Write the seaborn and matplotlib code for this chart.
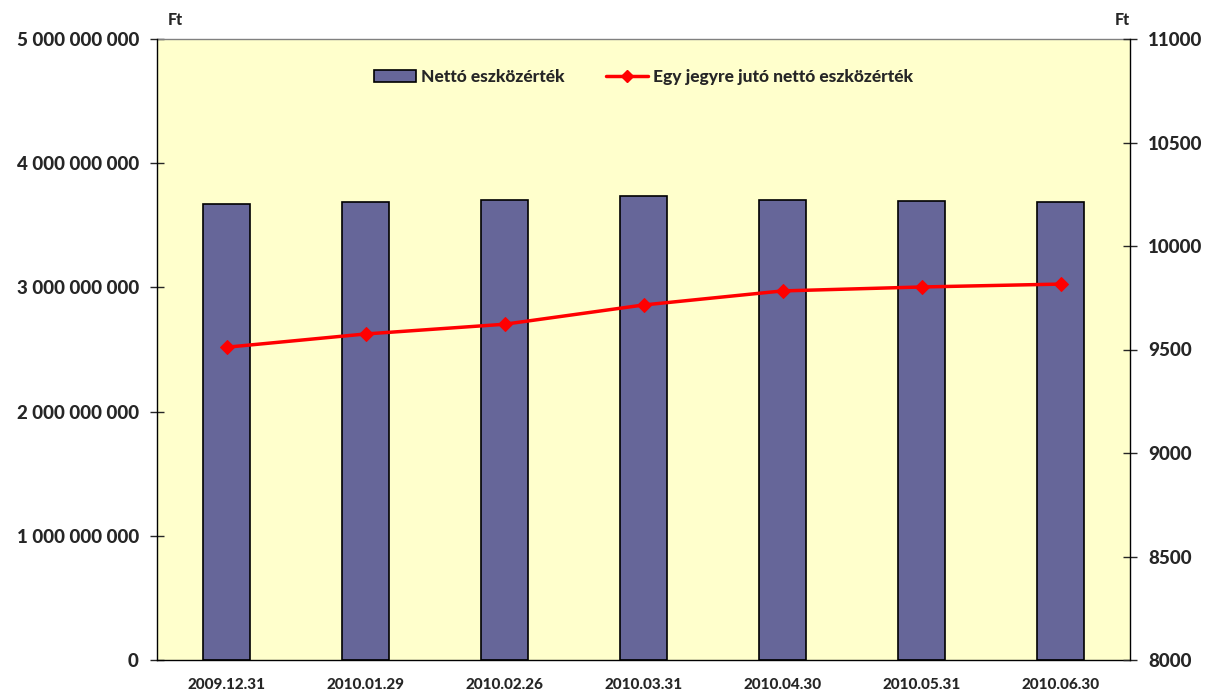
import numpy as np
import pandas as pd
import matplotlib
matplotlib.use("Agg")
import matplotlib.pyplot as plt
import seaborn as sns
from matplotlib.patches import Patch
from matplotlib.lines import Line2D
from matplotlib.ticker import FuncFormatter, MultipleLocator, FixedLocator

# adatok
dates = ["2009.12.31", "2010.01.29", "2010.02.26", "2010.03.31",
         "2010.04.30", "2010.05.31", "2010.06.30"]
net_assets = [3.671e9, 3.688e9, 3.704e9, 3.733e9, 3.704e9, 3.698e9, 3.690e9]
per_share = [9511, 9575, 9622, 9715, 9783, 9802, 9816]

bar_label = "Nettó eszközérték"
line_label = "Egy jegyre jutó nettó eszközérték"

df = pd.DataFrame({"datum": dates, "nav": net_assets, "egy": per_share})

sns.set_style("white")
plt.rcParams["font.family"] = ["Lato", "DejaVu Sans"]
W = "black"  # legvastagabb betű

fig = plt.figure(figsize=(12.06, 6.95), dpi=100)
ax = fig.add_axes([157 / 1206, 35 / 695, 973 / 1206, 621 / 695])
ax.set_facecolor("#FFFFCC")

sns.barplot(data=df, x="datum", y="nav", color="#666699", width=0.34,
            edgecolor="black", linewidth=1.2, saturation=1, ax=ax)

ax2 = ax.twinx()
x_pos = np.arange(len(dates))
sns.lineplot(x=x_pos, y=df["egy"], color="red", linewidth=2.5, marker="D",
             markersize=7, markeredgecolor="red", ax=ax2)

ax.set_xlim(-0.5, len(dates) - 0.5)
ax.set_ylim(0, 5e9)
ax2.set_ylim(8000, 11000)

ax.yaxis.set_major_locator(MultipleLocator(1e9))
ax.yaxis.set_major_formatter(FuncFormatter(lambda v, p: f"{int(v):,}".replace(",", " ")))
ax2.yaxis.set_major_locator(MultipleLocator(500))

ax.set_xticks(x_pos)
ax.set_xticklabels(dates, fontsize=11, fontweight=W)
ax.xaxis.set_minor_locator(FixedLocator(np.arange(-0.5, len(dates), 1.0)))
ax.tick_params(axis="x", which="major", length=0, pad=13)
ax.tick_params(axis="x", which="minor", length=5, direction="out", width=1)
ax.tick_params(axis="y", which="major", length=10, direction="inout", width=1,
               labelsize=13.5, pad=8)
ax2.tick_params(axis="y", which="major", length=10, direction="inout", width=1,
                labelsize=13.5, pad=8)
for lab in ax.get_yticklabels() + ax2.get_yticklabels():
    lab.set_fontweight(W)

ax.set_xlabel("")
ax.set_ylabel("")
ax2.set_ylabel("")

for a in (ax, ax2):
    a.spines["top"].set_visible(False)
    for s in ("left", "right", "bottom"):
        a.spines[s].set_color("black")
        a.spines[s].set_linewidth(1)
ax.spines["right"].set_visible(False)
ax2.spines["left"].set_visible(False)
ax2.spines["bottom"].set_visible(False)
ax.plot([-0.5, len(dates) - 0.5], [5e9, 5e9], color="#808080", lw=1, clip_on=False)

fig.text(168 / 1206, 1 - 20 / 695, "Ft", fontsize=11.5, fontweight=W, va="center")
fig.text(1115 / 1206, 1 - 20 / 695, "Ft", fontsize=11.5, fontweight=W, va="center")

handles = [Patch(facecolor="#666699", edgecolor="black", linewidth=1.2, label=bar_label),
           Line2D([0], [0], color="red", lw=2.5, marker="D", markersize=6, label=line_label)]
ax2.legend(handles=handles, loc="center", bbox_to_anchor=(0.5, 0.939), ncol=2,
           frameon=False, prop={"size": 12.5, "weight": W},
           handlelength=2.4, handletextpad=0.3, columnspacing=2.4)

fig.savefig("out.png", dpi=100)
